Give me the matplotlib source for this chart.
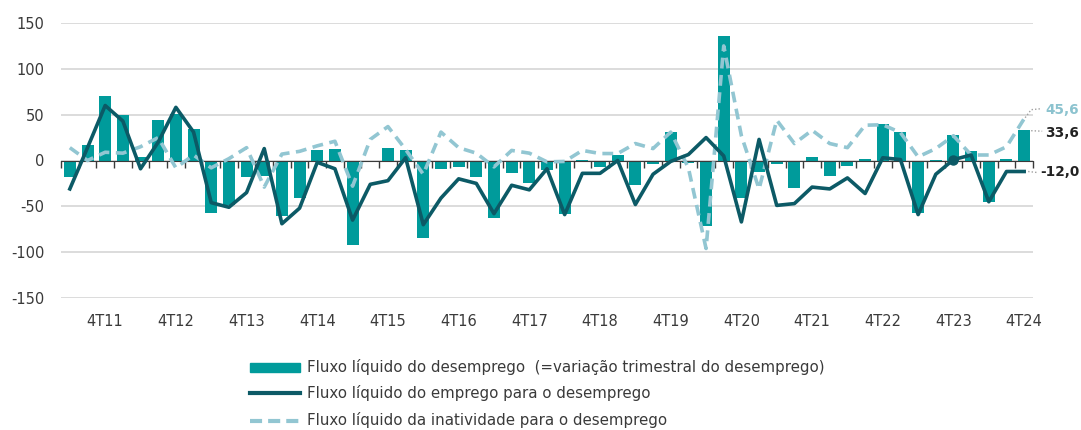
import matplotlib
matplotlib.use('Agg')
import matplotlib.pyplot as plt
from matplotlib.lines import Line2D
from matplotlib.patches import Rectangle
import numpy as np

# quarters from 2T11 to 4T24
quarters = []
for year in range(11, 25):
    for q in range(1, 5):
        quarters.append('%dT%02d' % (q, year))
quarters = quarters[1:]

# Fluxo liquido do desemprego (bars)
desemprego = [-18, 17, 70, 50, 4, 44, 51, 34, -57, -48,
              -18, -17, -61, -41, 12, 13, -92, -2, 14, 12,
              -85, -9, -7, -18, -63, -14, -24, -10, -58, 0.5,
              -7, 6.5, -27, -4, 31, -3, -71, 136, -41, -12,
              -4, -30, 3.6, -17, -6, 2, 40, 31, -57, 1,
              28, 10, -45, 2, 33.6]

# Fluxo liquido do emprego para o desemprego (solid)
emprego = [-31, 14, 60, 43, -9, 20, 58, 31, -46, -51,
           -35, 13, -69, -52, -2, -9, -65, -26, -22, 3,
           -70, -41, -20, -25, -58, -27, -32, -9, -59, -14,
           -14, 0, -48, -15, -1, 6.5, 25, 5, -67, 23,
           -49, -47, -29, -31, -19, -36, 3, 1, -59, -15,
           1, 6, -45, -12, -12.0]

# Fluxo liquido da inatividade para o desemprego (dashed)
inatividade = [14, 0, 9, 8, 15, 25, -8, 6, -8, 2,
               14, -29, 7, 10, 16, 21, -28, 23, 37, 12,
               -15, 31, 14, 8, -7, 11, 8, -1.5, -1, 11,
               7.6, 7.6, 18.5, 13, 31, -8, -96, 125, 27, -31,
               44, 18.5, 33, 18.5, 14, 38.5, 39, 30.5, 4, 13,
               27, 6, 6, 15, 45.6]

legend_labels = ['Fluxo líquido do desemprego  (=variação trimestral do desemprego)',
                 'Fluxo líquido do emprego para o desemprego',
                 'Fluxo líquido da inatividade para o desemprego']

c_bar = '#009B9B'
c_solid = '#0C5A66'
c_dash = '#92C6D2'
c_text = '#3a3a3a'

plt.rcParams['font.family'] = ['DejaVu Sans']

W, H = 1081, 430
fig = plt.figure(figsize=(W / 100, H / 100), dpi=100)
ax = fig.add_axes([61 / W, 1 - 298 / H, (1033 - 61) / W, (298 - 23) / H])

x = np.arange(len(quarters))
ax.bar(x, desemprego, width=0.68, color=c_bar, zorder=2)
ax.plot(x, inatividade, color=c_dash, lw=2.6, dashes=(3.0, 1.8), zorder=3)
ax.plot(x, emprego, color=c_solid, lw=2.6, zorder=4)
ax.plot(x[50], emprego[50], 'o', ms=6.5, color=c_solid, zorder=5)

ax.set_xlim(-0.5, len(x) - 0.5)
ax.set_ylim(-150, 150)
yt = list(range(-150, 151, 50))
ax.set_yticks(yt)
ax.set_yticklabels([str(v) for v in yt])
ax.yaxis.grid(True, color='#d9d9d9', lw=1.3)
ax.set_axisbelow(True)
for s in ['top', 'right', 'left']:
    ax.spines[s].set_visible(False)
ax.spines['bottom'].set_position(('data', 0))
ax.spines['bottom'].set_color(c_text)
ax.spines['bottom'].set_zorder(2.5)
ax.set_xticks(np.arange(len(x) + 1) - 0.5)
ax.tick_params(axis='x', length=5, width=1, color=c_text, labelbottom=False)
ax.tick_params(axis='y', length=0, pad=12, labelsize=10.5, labelcolor=c_text)

# year labels under the plot
for i, q in enumerate(quarters):
    if q.startswith('4T'):
        ax.annotate(q, xy=(i, -150), xytext=(0, -23), textcoords='offset pixels',
                    ha='center', va='center', fontsize=10.5, color=c_text,
                    annotation_clip=False)

# end labels with dotted leaders
def px(xd, yd):
    return ax.transData.transform((xd, yd))

def leader(points):
    fx = [p[0] / W for p in points]
    fy = [p[1] / H for p in points]
    fig.add_artist(Line2D(fx, fy, transform=fig.transFigure, color='#a0a0a0',
                          lw=1, ls=(0, (1, 1.5))))

last = len(x) - 1
p = px(last, inatividade[-1])
leader([(p[0] + 1, p[1] + 1), (p[0] + 7, p[1] + 9), (p[0] + 17, p[1] + 10)])
fig.text((p[0] + 21) / W, (p[1] + 9) / H, '45,6', color='#8CC3CF', fontsize=9.8,
         fontweight='bold', ha='left', va='center')

p = px(last + 0.34, desemprego[-1])
leader([(p[0] + 1, p[1] - 1), (p[0] + 12, p[1] - 1.5)])
fig.text((p[0] + 15) / W, (p[1] - 3) / H, '33,6', color='#222222', fontsize=9.8,
         fontweight='bold', ha='left', va='center')

p = px(last, emprego[-1])
leader([(p[0] + 4, p[1]), (p[0] + 13, p[1] - 1)])
fig.text((p[0] + 16) / W, (p[1] - 1) / H, '-12,0', color='#222222', fontsize=9.8,
         fontweight='bold', ha='left', va='center')

# legend drawn by hand
fig.add_artist(Rectangle((250 / W, 1 - 372 / H), 50 / W, 9 / H,
                         transform=fig.transFigure, color=c_bar))
fig.add_artist(Line2D([250 / W, 300 / W], [1 - 393 / H] * 2, transform=fig.transFigure,
                      color=c_solid, lw=3))
fig.add_artist(Line2D([250 / W, 299 / W], [1 - 421 / H] * 2, transform=fig.transFigure,
                      color=c_dash, lw=3, dashes=(2.9, 1.45)))
for yy, lab in zip([367, 393, 420], legend_labels):
    fig.text(307 / W, 1 - yy / H, lab, fontsize=10.8, color=c_text, ha='left', va='center')

fig.savefig('out.png', dpi=100)
